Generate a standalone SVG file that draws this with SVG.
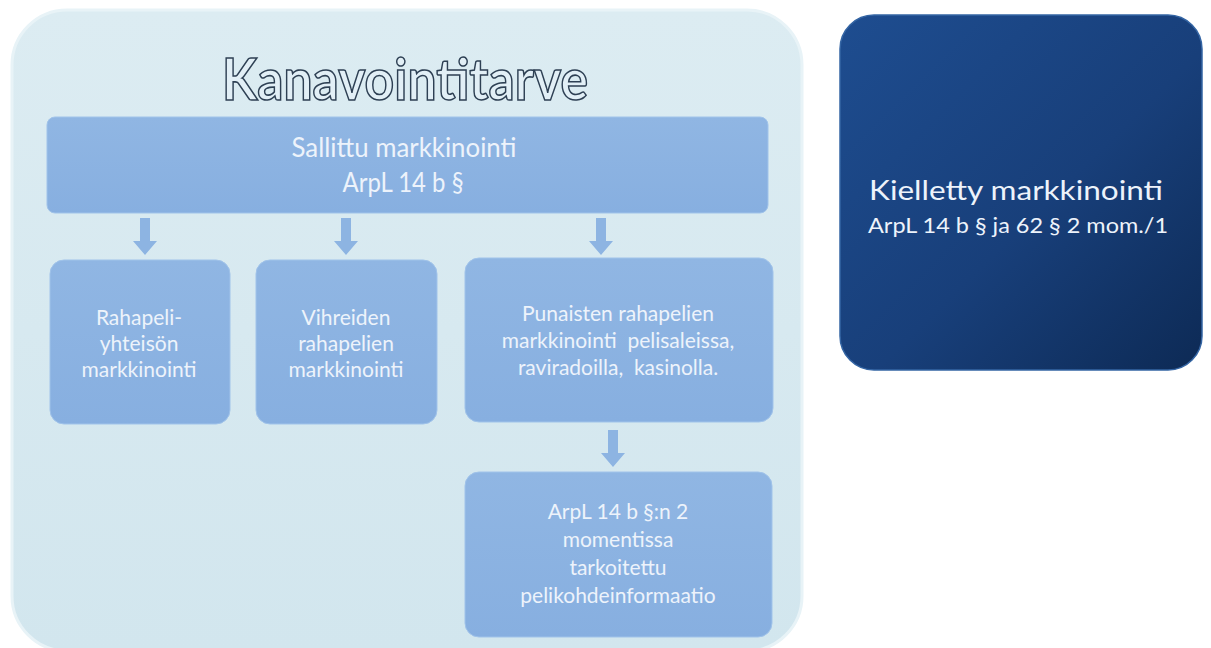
<svg xmlns="http://www.w3.org/2000/svg" width="1211" height="648" viewBox="0 0 1211 648">
<defs>
<linearGradient id="gCont" x1="0" y1="0" x2="0" y2="1">
<stop offset="0" stop-color="#dcecf2"/>
<stop offset="1" stop-color="#d2e6ee"/>
</linearGradient>
<linearGradient id="gBox" x1="0" y1="0" x2="0" y2="1">
<stop offset="0" stop-color="#90b6e3"/>
<stop offset="1" stop-color="#87afe0"/>
</linearGradient>
<linearGradient id="gDark" x1="0" y1="0" x2="1" y2="1">
<stop offset="0" stop-color="#1e4d90"/>
<stop offset="0.55" stop-color="#183f7a"/>
<stop offset="1" stop-color="#0d2a55"/>
</linearGradient>
<style>
.box{fill:url(#gBox);stroke:#a0c3ea;stroke-width:1}
.arr{fill:#8db4e2}
.t{font-family:Lato,"Open Sans","Liberation Sans",sans-serif;fill:#edf3fb;text-anchor:middle}
.s21{font-size:21px}
</style>
</defs>
<rect width="1211" height="648" fill="#ffffff"/>
<g id="container">
<rect x="12" y="10" width="790" height="641" rx="55" fill="url(#gCont)" stroke="#e8f3f7" stroke-width="3"/>
<text x="405" y="100" font-family="Lato,'Open Sans','Liberation Sans',sans-serif" font-size="58" font-weight="bold" text-anchor="middle" fill="#e2eff6" stroke="#2e4054" stroke-width="1.6" textLength="366" lengthAdjust="spacingAndGlyphs">Kanavointitarve</text>
</g>
<g id="top">
<rect class="box" x="47" y="117" width="721" height="96" rx="8"/>
<text class="t" x="404" y="157" font-size="26" textLength="225" lengthAdjust="spacingAndGlyphs">Sallittu markkinointi</text>
<text class="t" x="403" y="192" font-size="26" textLength="121" lengthAdjust="spacingAndGlyphs">ArpL 14 b §</text>
</g>
<g id="b1">
<rect class="box" x="50" y="260" width="180" height="164" rx="14"/>
<text class="t s21" x="139" y="325">Rahapeli-</text>
<text class="t s21" x="139" y="351">yhteisön</text>
<text class="t s21" x="139" y="377">markkinointi</text>
</g>
<g id="b2">
<rect class="box" x="256" y="260" width="181" height="164" rx="14"/>
<text class="t s21" x="346" y="325">Vihreiden</text>
<text class="t s21" x="346" y="351">rahapelien</text>
<text class="t s21" x="346" y="377">markkinointi</text>
</g>
<g id="b3">
<rect class="box" x="465" y="258" width="308" height="164" rx="14"/>
<text class="t s21" x="618" y="321">Punaisten rahapelien</text>
<text class="t s21" x="618" y="348" xml:space="preserve">markkinointi  pelisaleissa,</text>
<text class="t s21" x="618" y="375" xml:space="preserve">raviradoilla,  kasinolla.</text>
</g>
<g id="b4">
<rect class="box" x="465" y="472" width="307" height="165" rx="14"/>
<text class="t s21" x="618" y="519">ArpL 14 b §:n 2</text>
<text class="t s21" x="618" y="547">momentissa</text>
<text class="t s21" x="618" y="575">tarkoitettu</text>
<text class="t s21" x="618" y="603">pelikohdeinformaatio</text>
</g>
<g id="kielletty">
<rect x="840" y="15" width="362" height="355" rx="34" fill="url(#gDark)" stroke="#3465a4" stroke-width="1.5"/>
<text class="t" x="1016" y="200" font-size="27" textLength="294" lengthAdjust="spacingAndGlyphs">Kielletty markkinointi</text>
<text class="t" x="1018" y="233" font-size="21" textLength="300" lengthAdjust="spacingAndGlyphs">ArpL 14 b § ja 62 § 2 mom./1</text>
</g>
<g id="connectors">
<path class="arr" d="M140,218 h10 v23 h7 l-12,14 l-12,-14 h7 z"/>
<path class="arr" d="M341,218 h10 v23 h7 l-12,14 l-12,-14 h7 z"/>
<path class="arr" d="M596,218 h10 v23 h7 l-12,14 l-12,-14 h7 z"/>
<path class="arr" d="M608,430 h10 v23 h7 l-12,14 l-12,-14 h7 z"/>
</g>
</svg>
